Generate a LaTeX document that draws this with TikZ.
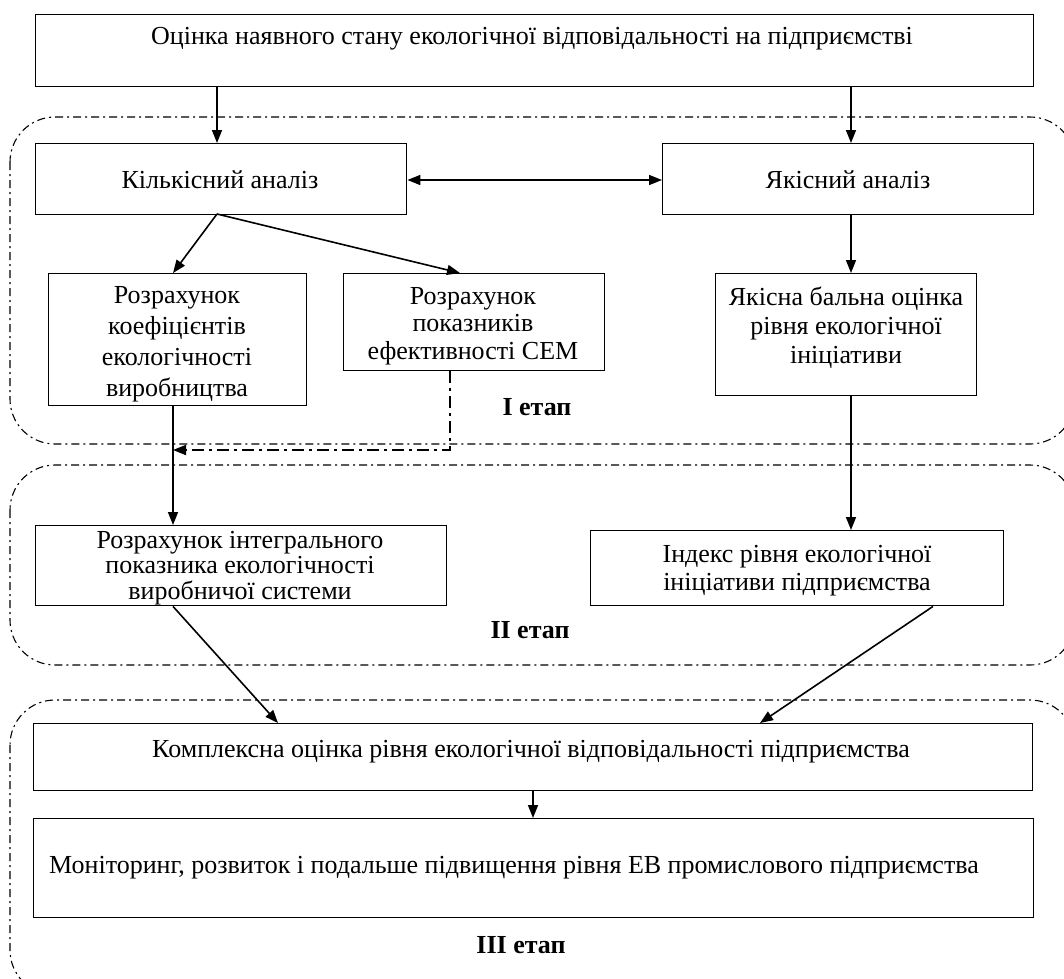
\documentclass[tikz,border=0pt]{standalone}
\usepackage{fontspec}
\setmainfont{Liberation Serif}
\usetikzlibrary{arrows.meta}
\tikzset{
  box/.style={draw, line width=1.4pt, rectangle, inner sep=0pt, anchor=north west},
  txt/.style={inner sep=0pt, align=center, font=\fontsize{26}{30}\selectfont},
  stage/.style={inner sep=0pt, font=\fontsize{26}{30}\selectfont\bfseries},
  link/.style={line width=1.6pt, -{Triangle[length=13pt,width=10pt]}},
  dlink/.style={link, line width=1.8pt, dash pattern=on 12pt off 5pt on 3pt off 5pt},
  group/.style={line width=1.1pt, rounded corners=45pt, dash pattern=on 8pt off 4pt on 2pt off 4pt}
}
\begin{document}
\begin{tikzpicture}[x=1pt,y=-1pt]
\useasboundingbox (0,0) rectangle (1064,978);
\clip (0,0) rectangle (1064,978);

% stage frames
\draw[group] (10,117) rectangle (1075,444);
\draw[group] (10,465) rectangle (1075,665);
\draw[group] (10,700) rectangle (1075,995);

% boxes
\node[box, minimum width=998, minimum height=72]  (top)  at (35,14)  {};
\node[box, minimum width=371, minimum height=71]  (kil)  at (35,143) {};
\node[box, minimum width=371, minimum height=71]  (yak)  at (662,143) {};
\node[box, minimum width=258, minimum height=132] (koef) at (48,273) {};
\node[box, minimum width=261, minimum height=97]  (sem)  at (343,273) {};
\node[box, minimum width=261, minimum height=122] (ball) at (715,273) {};
\node[box, minimum width=411, minimum height=80]  (integ) at (35,525) {};
\node[box, minimum width=413, minimum height=75]  (index) at (590,530) {};
\node[box, minimum width=999, minimum height=67]  (komp) at (33,723) {};
\node[box, minimum width=1000, minimum height=99] (mon)  at (33,818) {};

% texts
\node[txt] (topT) at (532,39) {Оцінка наявного стану екологічної відповідальності на підприємстві};
\node[txt] (kilT) at (220,180) {Кількісний аналіз};
\node[txt] (yakT) at (848,180) {Якісний аналіз};
\node[txt, font=\fontsize{26}{31}\selectfont] (koefT) at (177,344) {Розрахунок\\коефіцієнтів\\екологічності\\виробництва};
\node[txt, font=\fontsize{26}{27.5}\selectfont] (semT) at (473,326) {Розрахунок\\показників\\ефективності СЕМ};
\node[txt, font=\fontsize{26}{29}\selectfont] (ballT) at (846,328) {Якісна бальна оцінка\\рівня екологічної\\ініціативи};
\node[txt, font=\fontsize{26}{25.5}\selectfont] (integT) at (240,568) {Розрахунок інтегрального\\показника екологічності\\виробничої системи};
\node[txt, font=\fontsize{26}{28}\selectfont] (indexT) at (797,571) {Індекс рівня екологічної\\ініціативи підприємства};
\node[txt] (kompT) at (531,752) {Комплексна оцінка рівня екологічної відповідальності підприємства};
\node[txt, anchor=west] (monT) at (49,868) {Моніторинг, розвиток і подальше підвищення рівня ЕВ промислового підприємства};

\node[stage] (st1) at (537,407) {I етап};
\node[stage] (st2) at (530,630) {II етап};
\node[stage] (st3) at (521,945) {III етап};

% connection points
\coordinate (kilB) at (217,214);
\coordinate (semB) at (450,370);
\coordinate (semC) at (450,450);
\coordinate (koefA) at (173,450);

% connectors
\draw[link] (top.south -| kilB) -- (kil.north -| kilB);
\draw[link] (top.south -| 851,0) -- (yak.north -| 851,0);
\draw[link, {Triangle[length=13pt,width=10pt]}-{Triangle[length=13pt,width=10pt]}] (kil.east |- 0,180) -- (yak.west |- 0,180);
\draw[link] (kilB) -- (koef.north -| 173,0);
\draw[link] (kilB) -- (sem.north -| 460,0);
\draw[link] (yak.south -| 851,0) -- (ball.north -| 851,0);
\draw[link] (koef.south -| 173,0) -- (integ.north -| 173,0);
\draw[dlink] (sem.south -| semB) -- (semC) -- (koefA);
\draw[link] (ball.south -| 851,0) -- (index.north -| 851,0);
\draw[link] (integ.south -| 173,0) -- (komp.north -| 278,0);
\draw[link] (index.south -| 933,0) -- (komp.north -| 760,0);
\draw[link] (komp.south -| 533,0) -- (mon.north -| 533,0);
\end{tikzpicture}
\end{document}
